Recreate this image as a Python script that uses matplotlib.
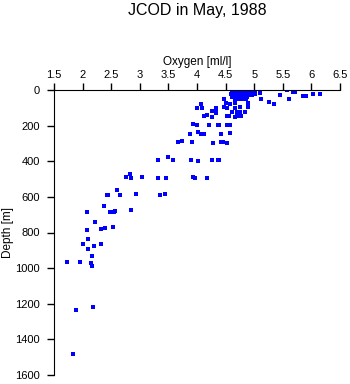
import matplotlib
matplotlib.use("Agg")
import matplotlib.pyplot as plt

plt.rcParams['font.family'] = ['Liberation Sans', 'DejaVu Sans']

# oxygen [ml/l] and depth [m]
oxygen = [
    # surface cluster
    4.62, 4.66, 4.70, 4.74, 4.78, 4.82, 4.86,
    4.64, 4.68, 4.72, 4.76, 4.80, 4.85, 4.90, 4.95,
    4.60, 4.66, 4.71, 4.75, 4.82, 4.88, 4.94, 5.02,
    4.63, 4.70, 4.74, 4.79, 4.85, 4.92,
    4.62, 4.68, 4.74, 4.80, 4.88,
    4.66, 4.72, 4.78, 4.85,
    5.10, 5.10, 5.01, 4.96,
    5.45, 5.57, 5.68, 5.72, 5.85, 5.90, 6.02, 6.15, 5.61, 5.35, 5.26, 5.12, 5.00,
    4.47, 4.07, 4.00, 4.09, 4.26, 4.33, 4.33, 4.33, 4.47, 4.52, 4.50, 4.58, 4.67,
    4.66, 4.75, 4.89, 4.89, 4.61, 4.70, 4.75, 4.84,
    4.12, 4.17, 4.26, 4.52, 4.56, 4.67, 4.70, 4.77,
    3.93, 4.00, 4.21, 4.37, 4.39, 4.52, 4.58,
    3.88, 4.02, 4.07, 4.12, 4.42, 4.58,
    3.67, 3.74, 3.91, 4.28, 4.42, 4.46, 4.52,
    3.32, 3.50, 3.58, 3.90, 4.02, 4.26, 4.37, 4.39,
    2.83, 2.76, 2.85, 3.03, 3.32, 3.46, 3.93, 3.96, 4.17,
    2.61, 2.42, 2.44, 2.66, 2.94, 3.35, 3.44,
    2.38, 2.07, 2.48, 2.55, 2.57, 2.84,
    2.22, 2.33, 2.40, 2.54, 2.07,
    2.00, 2.09, 2.20, 2.10, 2.32, 2.17,
    1.73, 1.96, 2.15, 2.17,
    1.89, 2.19, 1.84,
]
depth = [
    5, 5, 5, 5, 5, 5, 5,
    12, 12, 12, 12, 12, 12, 12, 12,
    20, 20, 20, 20, 20, 20, 20, 20,
    30, 30, 30, 30, 30, 30,
    42, 42, 42, 42, 42,
    52, 52, 52, 52,
    0, 17, 0, 28,
    28, 0, 12, 12, 33, 35, 24, 24, 50, 78, 68, 51, 12,
    50, 78, 100, 100, 120, 100, 115, 128, 95, 100, 75, 78, 75,
    100, 95, 75, 95, 124, 124, 124, 124,
    146, 140, 150, 146, 146, 150, 146, 146,
    190, 197, 197, 197, 197, 197, 197,
    245, 236, 245, 248, 247, 242,
    292, 285, 292, 298, 292, 292, 298,
    393, 377, 393, 395, 400, 393, 395, 395,
    474, 490, 495, 490, 495, 495, 490, 495, 495,
    560, 588, 588, 588, 586, 590, 584,
    654, 687, 687, 687, 680, 676,
    743, 783, 775, 770, 788,
    867, 839, 878, 890, 867, 931,
    963, 963, 974, 987,
    1234, 1219, 1480,
]

fig = plt.figure(figsize=(3.5, 3.84), dpi=100)
ax = fig.add_axes([54 / 350, 9 / 384, 286 / 350, 285 / 384])

ax.scatter(oxygen, depth, s=5, marker='s', color='#0000ff', linewidths=0)

ax.set_xlim(1.5, 6.5)
ax.set_ylim(1600, 0)
ax.set_xticks([1.5, 2, 2.5, 3, 3.5, 4, 4.5, 5, 5.5, 6, 6.5])
ax.set_xticklabels(['1.5', '2', '2.5', '3', '3.5', '4', '4.5', '5', '5.5', '6', '6.5'])
ax.set_yticks(range(0, 1601, 200))

ax.xaxis.tick_top()
ax.xaxis.set_label_position('top')
ax.spines['right'].set_visible(False)
ax.spines['bottom'].set_visible(False)
ax.tick_params(axis='x', direction='out', length=5, width=1, pad=2, labelsize=8)
ax.tick_params(axis='y', direction='out', length=5, width=1, pad=5, labelsize=8)
ax.set_xlabel('Oxygen [ml/l]', fontsize=8.5, labelpad=4)

fig.text(8 / 350, 1 - 233 / 384, 'Depth [m]', rotation=90, ha='center', va='center', fontsize=8.5)
fig.text(197 / 350, 1 - 11 / 384, 'JCOD in May, 1988', ha='center', va='center', fontsize=11.5)

fig.savefig('out.png', dpi=100)
